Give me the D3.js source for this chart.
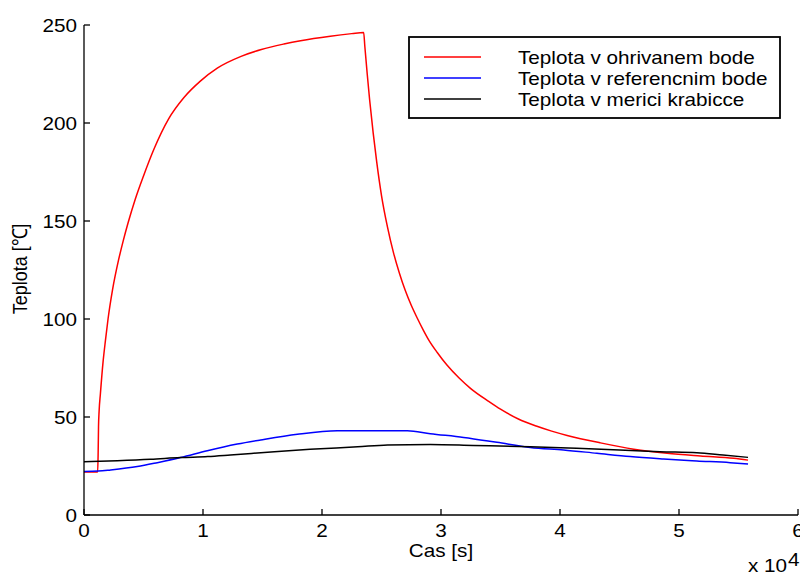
<!DOCTYPE html>
<html>
<head>
<meta charset="utf-8">
<script src="https://cdn.jsdelivr.net/npm/d3@7"></script>
<style>
  html, body { margin: 0; padding: 0; background: #fff; }
  svg { display: block; }
  text { font-family: "Liberation Sans", Arial, sans-serif; fill: #000; }
</style>
</head>
<body>
<svg id="chart" width="800" height="572"></svg>
<script>
// Heated point temperature [s, °C]
const heatedTime = [0, 1150, 1190, 1220, 1270, 1380, 1600, 1800, 2020, 2400, 2900, 3300, 3700, 4300, 5000, 5900, 7100, 8400, 9800, 11200, 13200, 14900, 16800, 18200, 20700, 22500, 23500,
  23600, 23800, 24000, 24300, 24600, 25000, 25500, 26000, 26500, 27000, 27500, 28000, 28500, 29000, 29700, 30500, 31500, 32500, 34000, 35000, 36500, 38000, 39300, 40600, 43400, 46200, 49000, 51800, 54600, 55800];
const heatedTemp = [22, 22, 32, 45, 53, 62, 78, 89, 100, 115, 130, 140, 149, 161, 173, 187, 202, 213, 221.5, 228, 234, 237.5, 240.3, 242, 244.3, 245.6, 246.2,
  239, 225, 212, 195, 180, 163, 147, 134, 123.5, 114.5, 107, 100.5, 94.5, 89, 82.8, 76.5, 70, 64.5, 58, 54, 49, 45.4, 42.8, 40.6, 36.8, 33.6, 31.5, 30.1, 28.9, 28];

// Reference point temperature
const refTime = [0, 1200, 2240, 4480, 6160, 8120, 10360, 12880, 14850, 17930, 21280, 27170, 29100, 31900, 34700, 37500, 40300, 43100, 45900, 48700, 51500, 54300, 55800];
const refTemp = [22.2, 22.4, 23, 24.7, 26.7, 29.3, 32.8, 36.2, 38.3, 41.2, 43, 43, 41.5, 39.6, 37.1, 34.5, 33.2, 31.5, 29.8, 28.6, 27.6, 26.7, 26];

// Box (meter housing) temperature
const boxTime = [0, 2800, 5600, 8100, 10400, 12300, 16000, 19000, 23000, 25500, 29100, 32700, 37500, 41400, 45000, 48400, 51500, 53700, 55800];
const boxTemp = [27.2, 27.7, 28.4, 29.3, 29.8, 30.6, 32.3, 33.5, 34.8, 35.7, 36, 35.5, 34.8, 34, 33.2, 32.3, 31.8, 30.6, 29.4];

const xTicks = [0, 10000, 20000, 30000, 40000, 50000, 60000];
const xTickLabels = ["0", "1", "2", "3", "4", "5", "6"];
const yTicks = [0, 50, 100, 150, 200, 250];

const seriesNames = ["Teplota v ohrivanem bode", "Teplota v referencnim bode", "Teplota v merici krabicce"];
const seriesColors = ["#ff0000", "#0000ff", "#000000"];

const svg = d3.select("#chart");
const SX = 1.15;       // horizontal widening of the glyphs
const FS = 18;

const x = d3.scaleLinear().domain([0, 60000]).range([84, 798]);
const y = d3.scaleLinear().domain([0, 250]).range([515, 25]);

function label(g, txt, px, py, anchor, rotate) {
  const t = g.append("text")
    .attr("font-size", FS)
    .attr("text-anchor", anchor || "start")
    .text(txt);
  if (rotate) t.attr("transform", `translate(${px},${py}) rotate(-90) scale(1,${SX})`);
  else t.attr("transform", `translate(${px},${py}) scale(${SX},1)`);
  return t;
}

// Data lines
const series = [
  { t: heatedTime, v: heatedTemp },
  { t: refTime, v: refTemp },
  { t: boxTime, v: boxTemp }
];
const line = d3.line().x(d => x(d[0])).y(d => y(d[1])).curve(d3.curveMonotoneX);
const plot = svg.append("g");
series.forEach((s, i) => {
  plot.append("path")
    .datum(s.t.map((tt, k) => [tt, s.v[k]]))
    .attr("d", line)
    .attr("fill", "none")
    .attr("stroke", seriesColors[i])
    .attr("stroke-width", 1.5);
});

// Axes (inward ticks, no box)
const axes = svg.append("g").attr("stroke", "#000").attr("stroke-width", 1.3);
axes.append("line").attr("x1", x(0)).attr("x2", x(0)).attr("y1", y(250)).attr("y2", y(0));
axes.append("line").attr("x1", x(0)).attr("x2", x(60000)).attr("y1", y(0)).attr("y2", y(0));
yTicks.forEach(v => {
  axes.append("line").attr("x1", x(0)).attr("x2", x(0) + 6).attr("y1", y(v)).attr("y2", y(v));
});
xTicks.forEach(v => {
  axes.append("line").attr("x1", x(v)).attr("x2", x(v)).attr("y1", y(0)).attr("y2", y(0) - 6);
});

const txt = svg.append("g");
yTicks.forEach(v => label(txt, String(v), 77, y(v) + 6.5, "end"));
xTicks.forEach((v, i) => label(txt, xTickLabels[i], x(v), 537, "middle"));
label(txt, "x 10", 748, 572, "start");
label(txt, "4", 788, 566, "start");
label(txt, "Cas [s]", 441, 557, "middle");
label(txt, "Teplota [\u2103]", 27, 269, "middle", true);

// Legend
const lg = svg.append("g");
lg.append("rect").attr("x", 409).attr("y", 37).attr("width", 371).attr("height", 81)
  .attr("fill", "#fff").attr("stroke", "#000").attr("stroke-width", 1.8);
seriesNames.forEach((n, i) => {
  const ly = 57 + i * 21;
  lg.append("line").attr("x1", 424).attr("x2", 481).attr("y1", ly).attr("y2", ly)
    .attr("stroke", seriesColors[i]).attr("stroke-width", 1.3);
  label(lg, n, 518, ly + 6.5, "start");
});
</script>
</body>
</html>
